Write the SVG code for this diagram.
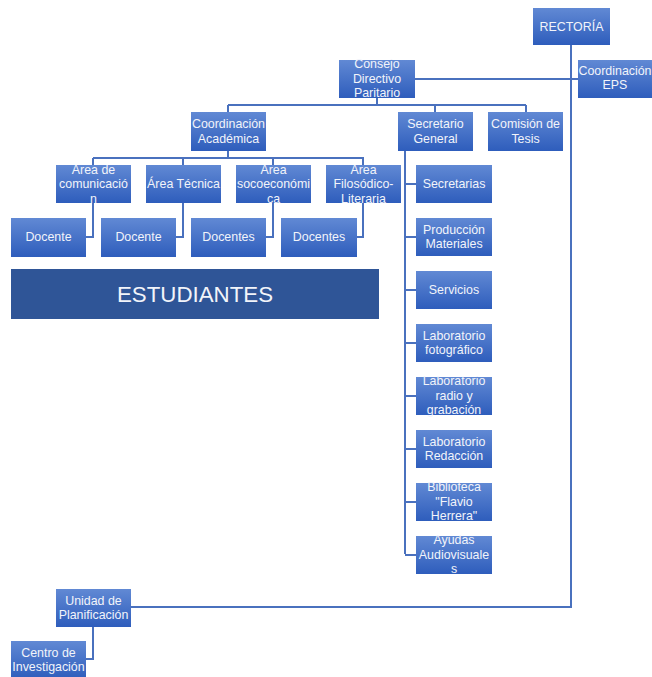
<svg xmlns="http://www.w3.org/2000/svg" width="652" height="677" viewBox="0 0 652 677">
<defs>
<linearGradient id="g" x1="0" y1="0" x2="0" y2="1">
<stop offset="0" stop-color="#6189D4"/>
<stop offset="1" stop-color="#2E5DBC"/>
</linearGradient>
<style>
.b{fill:url(#g);}
.t{font-family:"Liberation Sans",Arial,sans-serif;font-size:12.4px;fill:#F2F4FA;text-anchor:middle;}
.c{fill:none;stroke:#4A71BE;stroke-width:2;}
</style>
</defs>
<rect width="652" height="677" fill="#FFFFFF"/>
<g id="connectors">
<path class="c" d="M571,45 V607 H131"/>
<path class="c" d="M415,79 H578"/>
<path class="c" d="M377,98 V105 M228,105 H526 M228,105 V112 M435,105 V112 M526,105 V112"/>
<path class="c" d="M228,151 V158 M93,158 H364 M93,158 V165 M183,158 V165 M273,158 V165 M363,158 V165"/>
<path class="c" d="M93,203 V237 H86 M183,203 V237 H176 M273,203 V237 H266 M363,203 V237 H357"/>
<path class="c" d="M405,151 V554 M405,184 H416 M405,237 H416 M405,290 H416 M405,343 H416 M405,396 H416 M405,449 H416 M405,502 H416 M405,555 H416"/>
<path class="c" d="M93,627 V659 H86"/>
</g>
<g id="rectoria"><rect class="b" x="533" y="8" width="77" height="37"/><text class="t" x="571.5" y="31">RECTORÍA</text></g>
<g id="consejo"><rect class="b" x="339" y="60" width="76" height="38"/><text class="t" x="377" y="68">Consejo</text><text class="t" x="377" y="83">Directivo</text><text class="t" x="377" y="97">Paritario</text></g>
<g id="eps"><rect class="b" x="578" y="60" width="76" height="38"/><text class="t" x="615" y="75">Coordinación</text><text class="t" x="615" y="89">EPS</text></g>
<g id="coord-academica"><rect class="b" x="191" y="112" width="75" height="39"/><text class="t" x="228.5" y="128">Coordinación</text><text class="t" x="228.5" y="143">Académica</text></g>
<g id="secretario"><rect class="b" x="398" y="112" width="75" height="39"/><text class="t" x="435.5" y="128">Secretario</text><text class="t" x="435.5" y="143">General</text></g>
<g id="comision"><rect class="b" x="488" y="112" width="75" height="39"/><text class="t" x="525.5" y="128">Comisión de</text><text class="t" x="525.5" y="143">Tesis</text></g>
<g id="area-com"><rect class="b" x="56" y="165" width="75" height="38"/><text class="t" x="93.5" y="174">Area de</text><text class="t" x="93.5" y="188">comunicació</text><text class="t" x="93.5" y="203">n</text></g>
<g id="area-tec"><rect class="b" x="146" y="165" width="75" height="38"/><text class="t" x="183.5" y="188">Área Técnica</text></g>
<g id="area-soc"><rect class="b" x="236" y="165" width="75" height="38"/><text class="t" x="273.5" y="174">Area</text><text class="t" x="273.5" y="188">socoeconómi</text><text class="t" x="273.5" y="203">ca</text></g>
<g id="area-fil"><rect class="b" x="326" y="165" width="75" height="38"/><text class="t" x="363.5" y="174">Area</text><text class="t" x="363.5" y="188">Filosódico-</text><text class="t" x="363.5" y="203">Literaria</text></g>
<g id="doc1"><rect class="b" x="11" y="218" width="75" height="39"/><text class="t" x="48.5" y="241">Docente</text></g>
<g id="doc2"><rect class="b" x="101" y="218" width="75" height="39"/><text class="t" x="138.5" y="241">Docente</text></g>
<g id="doc3"><rect class="b" x="191" y="218" width="75" height="39"/><text class="t" x="228.5" y="241">Docentes</text></g>
<g id="doc4"><rect class="b" x="281" y="218" width="76" height="39"/><text class="t" x="319" y="241">Docentes</text></g>
<g id="estudiantes"><rect x="11" y="269" width="368" height="50" fill="#2F5597"/><text x="195" y="302" font-family="Liberation Sans,Arial,sans-serif" font-size="22.3" fill="#F2F4FA" text-anchor="middle">ESTUDIANTES</text></g>
<g id="secretarias"><rect class="b" x="416" y="165" width="76" height="38"/><text class="t" x="454" y="188">Secretarias</text></g>
<g id="produccion"><rect class="b" x="416" y="218" width="76" height="38"/><text class="t" x="454" y="234">Producción</text><text class="t" x="454" y="248">Materiales</text></g>
<g id="servicios"><rect class="b" x="416" y="271" width="76" height="38"/><text class="t" x="454" y="294">Servicios</text></g>
<g id="lab-foto"><rect class="b" x="416" y="324" width="76" height="38"/><text class="t" x="454" y="340">Laboratorio</text><text class="t" x="454" y="354">fotográfico</text></g>
<g id="lab-radio"><rect class="b" x="416" y="377" width="76" height="38"/><text class="t" x="454" y="385">Laboratorio</text><text class="t" x="454" y="400">radio y</text><text class="t" x="454" y="414">grabación</text></g>
<g id="lab-red"><rect class="b" x="416" y="430" width="76" height="38"/><text class="t" x="454" y="446">Laboratorio</text><text class="t" x="454" y="460">Redacción</text></g>
<g id="biblioteca"><rect class="b" x="416" y="483" width="76" height="38"/><text class="t" x="454" y="491">Biblioteca</text><text class="t" x="454" y="506">"Flavio</text><text class="t" x="454" y="520">Herrera"</text></g>
<g id="ayudas"><rect class="b" x="416" y="536" width="76" height="38"/><text class="t" x="454" y="544">Ayudas</text><text class="t" x="454" y="559">Audiovisuale</text><text class="t" x="454" y="573">s</text></g>
<g id="unidad"><rect class="b" x="56" y="589" width="75" height="38"/><text class="t" x="93.5" y="605">Unidad de</text><text class="t" x="93.5" y="619">Planificación</text></g>
<g id="centro"><rect class="b" x="11" y="641" width="75" height="38"/><text class="t" x="48.5" y="657">Centro de</text><text class="t" x="48.5" y="671">Investigación</text></g>
</svg>
